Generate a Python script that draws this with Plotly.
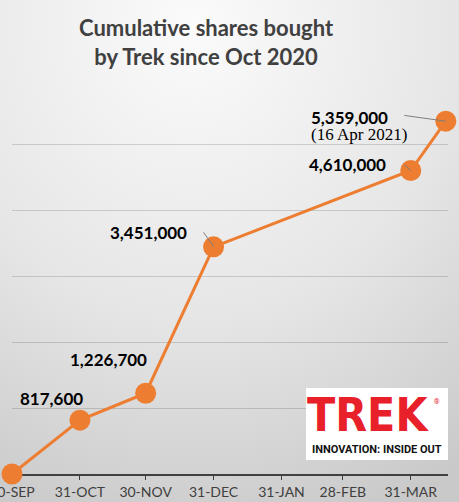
import base64
import plotly.graph_objects as go

# ---- data ----
dates = ["2020-09-30", "2020-10-31", "2020-11-30", "2020-12-31", "2021-03-31", "2021-04-16"]
shares = [0, 817600, 1226700, 3451000, 4610000, 5359000]
tick_dates = ["2020-09-30", "2020-10-31", "2020-11-30", "2020-12-31", "2021-01-31", "2021-02-28", "2021-03-31"]
tick_labels = ["30-SEP", "31-OCT", "30-NOV", "31-DEC", "31-JAN", "28-FEB", "31-MAR"]
last_note = "(16 Apr 2021)"
title_text = "Cumulative shares bought<br>by Trek since Oct 2020"

W, H = 459, 502
L, R, T, B = 12, 11, 79, 28
PW, PH = W - L - R, H - T - B

def px(x):
    return (x - L) / PW

def py(y):
    return (H - B - y) / PH

ORANGE = "#ED7D31"

bg_svg = (
    f'<svg xmlns="http://www.w3.org/2000/svg" width="{W}" height="{H}">'
    '<defs><radialGradient id="g" cx="0.42" cy="0.05" r="1.05">'
    '<stop offset="0" stop-color="#fbfbfb"/><stop offset="0.55" stop-color="#e6e6e6"/>'
    '<stop offset="1" stop-color="#c9c9c9"/></radialGradient></defs>'
    f'<rect width="{W}" height="{H}" fill="url(#g)"/></svg>'
)
bg_src = "data:image/svg+xml;base64," + base64.b64encode(bg_svg.encode()).decode()

fig = go.Figure()
fig.add_trace(go.Scatter(
    x=dates, y=shares, mode="lines+markers",
    line=dict(color=ORANGE, width=3),
    marker=dict(color=ORANGE, size=21),
    cliponaxis=False, hoverinfo="skip", showlegend=False,
))

annotations = []
label_font = dict(family="Lato", size=17, color="#000000")
# label placements (pixel offsets from the point); leader = tail offset of leader line
placements = {
    1: dict(dx=-28, dy=-22, leader=None),
    2: dict(dx=-37, dy=-34, leader=None),
    3: dict(dx=-65, dy=-14, leader=(-11, -16)),
    4: dict(dx=-63, dy=-6, leader=(-8, -7)),
    5: dict(dx=-96, dy=-4, leader=(-43, -6)),
}
for i, p in placements.items():
    annotations.append(dict(
        x=dates[i], y=shares[i], xref="x", yref="y", text=f"<b>{shares[i]:,}</b>",
        font=label_font, showarrow=False, xshift=p["dx"], yshift=-p["dy"],
        xanchor="center", yanchor="middle",
    ))
    if p["leader"]:
        annotations.append(dict(
            x=dates[i], y=shares[i], xref="x", yref="y", text="",
            showarrow=True, arrowhead=0, arrowwidth=1, arrowcolor="#7f7f7f",
            ax=p["leader"][0], ay=p["leader"][1], axref="pixel", ayref="pixel", standoff=0,
        ))
annotations.append(dict(
    x=dates[-1], y=shares[-1], xref="x", yref="y", text=last_note,
    font=dict(family="Liberation Serif", size=17, color="#000000"),
    showarrow=False, xshift=-87, yshift=-13, xanchor="center", yanchor="middle",
))
# title
annotations.append(dict(
    x=px(206), y=py(42.5), xref="paper", yref="paper", text=f"<b>{title_text}</b>",
    font=dict(family="Lato", size=22, color="#404040"), showarrow=False,
    xanchor="center", yanchor="middle",
))
# logo text
annotations.append(dict(
    x=px(368), y=py(415), xref="paper", yref="paper", text="<b>TREK</b>",
    font=dict(family="Liberation Sans Narrow, DejaVu Sans Condensed, Roboto", size=46, color="#E8202A"),
    showarrow=False, xanchor="center", yanchor="middle",
))
annotations.append(dict(
    x=px(437), y=py(402), xref="paper", yref="paper", text="®",
    font=dict(family="Roboto", size=7, color="#E8202A"), showarrow=False,
    xanchor="center", yanchor="middle",
))
annotations.append(dict(
    x=px(377), y=py(449), xref="paper", yref="paper", text="<b>INNOVATION: INSIDE OUT</b>",
    font=dict(family="Liberation Sans Narrow, Roboto", size=11, color="#111111"),
    showarrow=False, xanchor="center", yanchor="middle",
))

shapes = [dict(
    type="rect", xref="paper", yref="paper",
    x0=px(306), x1=px(448), y0=py(460), y1=py(388),
    fillcolor="#ffffff", line=dict(width=0), layer="above",
)]

fig.update_layout(
    width=W, height=H,
    margin=dict(l=L, r=R, t=T, b=B, autoexpand=False),
    paper_bgcolor="#e2e2e2", plot_bgcolor="rgba(0,0,0,0)",
    images=[dict(source=bg_src, xref="paper", yref="paper",
                 x=-L / PW, y=1 + T / PH, sizex=W / PW, sizey=H / PH,
                 xanchor="left", yanchor="top", sizing="stretch", layer="below")],
    annotations=annotations, shapes=shapes,
    xaxis=dict(
        type="date", range=["2020-09-30", "2021-04-17"],
        tickvals=tick_dates, ticktext=tick_labels, ticklabeloverflow="allow",
        tickfont=dict(family="Lato", size=14, color="#404040"),
        showline=True, linecolor="#404040", linewidth=1.5,
        ticks="outside", ticklen=4, tickcolor="#404040", tickwidth=1,
        showgrid=False, zeroline=False, automargin=False, layer="below traces",
    ),
    yaxis=dict(
        range=[0, 6000000], dtick=1000000, showticklabels=False,
        showgrid=True, gridcolor="rgba(0,0,0,0.15)", gridwidth=1,
        zeroline=False, automargin=False, layer="below traces",
    ),
)

fig.write_html(
    "out.html",
    config={"displayModeBar": False},
    post_script="document.body.style.margin='0';document.body.style.overflow='hidden';",
)
